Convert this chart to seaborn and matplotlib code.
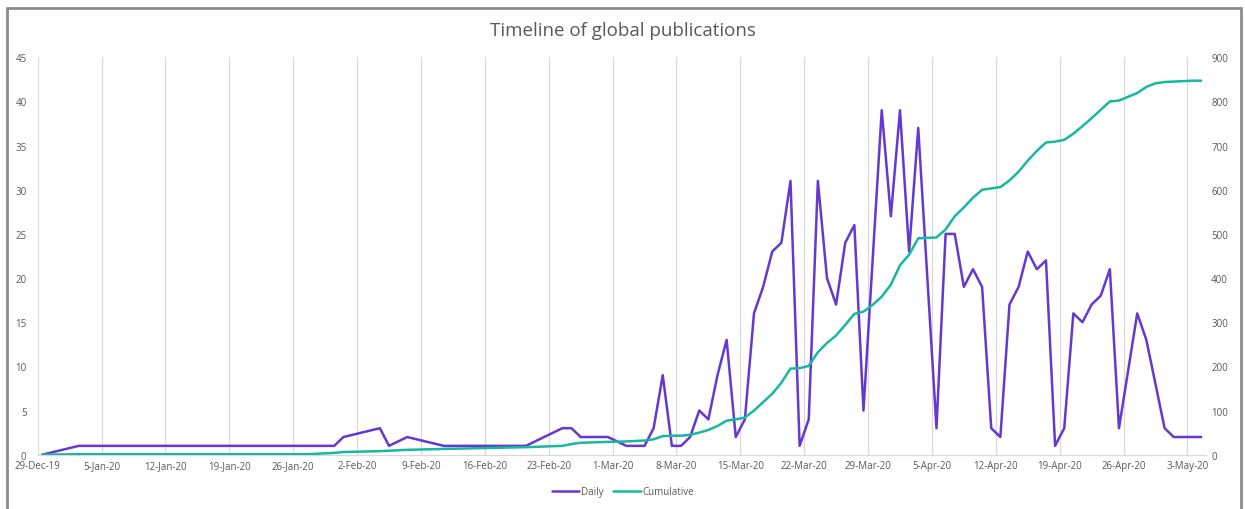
import numpy as np
import pandas as pd
import seaborn as sns
import matplotlib
matplotlib.use("Agg")
import matplotlib.pyplot as plt
from matplotlib.patches import Rectangle

# dias contados desde el 29-Dec-2019
inicio = pd.Timestamp("2019-12-29")

daily_day = [0, 4, 32, 33, 37, 38, 40, 44, 53, 57, 58, 59, 62, 64, 66, 67, 68, 69, 70,
             71, 72, 73, 74, 75, 76, 77, 78, 79, 80, 81, 82, 83, 84, 85, 86, 87, 88, 89,
             90, 92, 93, 94, 95, 96, 98, 99, 100, 101, 102, 103, 104, 105, 106, 107, 108,
             109, 110, 111, 112, 113, 114, 115, 116, 117, 118, 120, 121, 122, 123, 124,
             125, 126, 127]
daily_val = [0, 1, 1, 2, 3, 1, 2, 1, 1, 3, 3, 2, 2, 1, 1, 3, 9, 1, 1,
             2, 5, 4, 9, 13, 2, 4, 16, 19, 23, 24, 31, 1, 4, 31, 20, 17, 24, 26,
             5, 39, 27, 39, 23, 37, 3, 25, 25, 19, 21, 19, 3, 2, 17, 19, 23,
             21, 22, 1, 3, 16, 15, 17, 18, 21, 3, 16, 13, 8, 3, 2,
             2, 2, 2]

cum_day = [0, 4, 29, 32, 33, 37, 38, 40, 44, 53, 57, 58, 59, 62, 64, 66, 67, 68, 69,
           70, 71, 72, 73, 74, 75, 76, 77, 78, 79, 80, 81, 82, 83, 84, 85, 86, 87, 88,
           89, 90, 91, 92, 93, 94, 95, 96, 98, 99, 100, 101, 102, 103, 104, 105, 106,
           107, 108, 109, 110, 111, 112, 113, 114, 115, 116, 117, 118, 120, 121, 122,
           123, 124, 125, 126, 127]
cum_val = [0, 1, 1, 4, 6, 8, 9, 11, 13, 17, 20, 24, 27, 29, 30, 32, 35, 42, 43,
           43, 45, 50, 56, 65, 77, 80, 84, 100, 119, 138, 163, 195, 196, 201, 232, 253, 270, 294,
           319, 324, 339, 358, 385, 429, 453, 490, 492, 510, 540, 560, 582, 600, 603, 606, 621,
           641, 666, 688, 707, 709, 713, 727, 744, 762, 781, 800, 802, 819, 833, 841,
           844, 845, 846, 847, 847]

etiquetas_x = ["29-Dec-19", "5-Jan-20", "12-Jan-20", "19-Jan-20", "26-Jan-20", "2-Feb-20",
               "9-Feb-20", "16-Feb-20", "23-Feb-20", "1-Mar-20", "8-Mar-20", "15-Mar-20",
               "22-Mar-20", "29-Mar-20", "5-Apr-20", "12-Apr-20", "19-Apr-20", "26-Apr-20",
               "3-May-20"]

df_daily = pd.DataFrame({"fecha": inicio + pd.to_timedelta(daily_day, unit="D"), "n": daily_val})
df_cum = pd.DataFrame({"fecha": inicio + pd.to_timedelta(cum_day, unit="D"), "n": cum_val})

morado = "#6538d0"
verde = "#16b8a0"
gris = "#595959"

sns.set_theme(style="white")
plt.rcParams["font.family"] = ["Open Sans", "DejaVu Sans"]

fig = plt.figure(figsize=(12.45, 5.10), dpi=100)
ax = fig.add_axes([0.0303, 0.1065, 0.9381, 0.7792])

sns.lineplot(data=df_daily, x="fecha", y="n", ax=ax, color=morado, lw=1.8, label="Daily")
ax2 = ax.twinx()
sns.lineplot(data=df_cum, x="fecha", y="n", ax=ax2, color=verde, lw=1.8, label="Cumulative")

medio_dia = pd.Timedelta(hours=12)
ax.set_xlim(inicio - medio_dia, inicio + pd.Timedelta(days=127) + medio_dia)
ax.set_ylim(0, 45)
ax2.set_ylim(0, 900)
ax.set_yticks(np.arange(0, 46, 5))
ax2.set_yticks(np.arange(0, 901, 100))

ticks = inicio + pd.to_timedelta(np.arange(len(etiquetas_x)) * 7, unit="D") - medio_dia
ax.set_xticks(ticks)
ax.set_xticklabels(etiquetas_x)

ax.grid(axis="x", color="#d9d9d9", lw=0.9)
ax.grid(axis="y", visible=False)
ax2.grid(False)
ax.set_axisbelow(True)

for s in ["left", "right", "top"]:
    ax.spines[s].set_visible(False)
for s in ax2.spines.values():
    s.set_visible(False)
ax.spines["bottom"].set_color("#d9d9d9")
ax.spines["bottom"].set_linewidth(0.9)

ax.tick_params(axis="y", length=0, labelsize=7, labelcolor=gris, pad=8)
ax.tick_params(axis="x", length=0, labelsize=7, labelcolor=gris, pad=4)
ax2.tick_params(axis="y", length=0, labelsize=7, labelcolor=gris, pad=4)
for a in (ax, ax2):
    a.set_xlabel("")
    a.set_ylabel("")

h1, l1 = ax.get_legend_handles_labels()
h2, l2 = ax2.get_legend_handles_labels()
ax.get_legend().remove()
ax2.get_legend().remove()
fig.legend(h1 + h2, l1 + l2, loc="center", bbox_to_anchor=(623 / 1245, 1 - 493 / 510),
           ncol=2, frameon=False, fontsize=7, handlelength=2.8, columnspacing=1.0,
           handletextpad=0.2, labelcolor=gris)

fig.text(0.5, 1 - 31 / 510, "Timeline of global publications", ha="center", va="center",
         fontsize=13.5, color=gris)

marco = Rectangle((7 / 1245, -0.1), (1241 - 7) / 1245, 1.1 - 9 / 510, transform=fig.transFigure,
                  fill=False, edgecolor="#8c8c8c", lw=2, clip_on=False)
fig.add_artist(marco)

fig.savefig("out.png", dpi=100)
